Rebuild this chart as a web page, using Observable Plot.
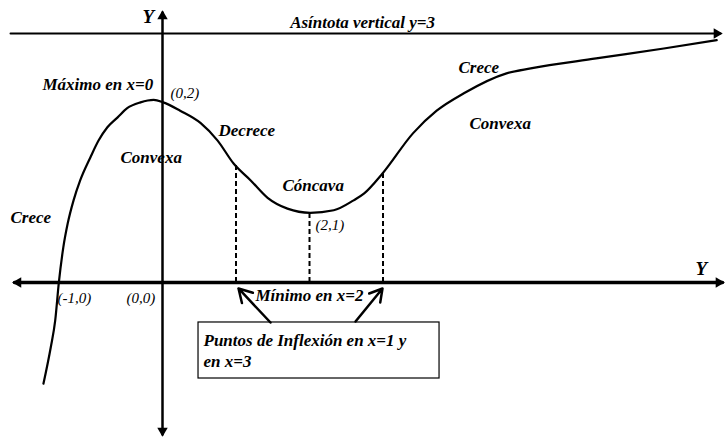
<!DOCTYPE html>
<html>
<head>
<meta charset="utf-8">
<script src="https://cdn.jsdelivr.net/npm/d3@7"></script>
<script src="https://cdn.jsdelivr.net/npm/@observablehq/plot@0.6"></script>
<style>
  html, body { margin: 0; padding: 0; background: #fff; }
  #chart svg { display: block; }
</style>
</head>
<body>
<div id="chart"></div>
<script>
// Curve sketched in the picture (x, y in axis units; sketch is not to scale)
const curveX = [-1.62, -1.52, -1.46, -1.41, -1.35, -1.29, -1.21, -1.12, -0.98, -0.87, -0.75, -0.61, -0.48, -0.30, -0.12, 0.01, 0.24, 0.52, 0.75, 0.97, 1.20, 1.43, 1.70, 2.01, 2.33, 2.60, 2.74, 2.99, 3.41, 3.73, 4.10, 4.68, 5.01, 5.90, 6.82, 7.54];
const curveY = [-1.22, -0.78, -0.46, 0.00, 0.42, 0.71, 0.99, 1.23, 1.51, 1.71, 1.87, 1.99, 2.10, 2.17, 2.20, 2.17, 2.07, 1.92, 1.71, 1.43, 1.23, 1.02, 0.89, 0.84, 0.87, 0.99, 1.07, 1.31, 1.80, 2.07, 2.28, 2.52, 2.58, 2.70, 2.82, 2.92];

// Asymptote value and the dashed markers (inflection x=1, x=3; minimum x=2)
const asymptoteY = 3;
const dashedX = [1, 2, 3];
const dashedTop = [1.43, 0.84, 1.31];

// Text labels (bold italic annotations)
const boldLabels = ["Máximo en x=0", "Decrece", "Convexa", "Cóncava", "Crece", "Crece", "Convexa", "Mínimo en x=2"];
const boldLabelX = [-1.633, 0.762, -0.571, 1.633, -2.068, 4.027, 4.177, 1.265];
const boldLabelY = [2.386, 1.831, 1.506, 1.169, 0.783, 2.590, 1.916, -0.157];

// Point coordinate labels (italic)
const pointLabels = ["(0,2)", "(2,1)", "(-1,0)", "(0,0)"];
const pointLabelX = [0.109, 2.082, -1.429, -0.490];
const pointLabelY = [2.277, 0.687, -0.193, -0.193];

// Axis names
const axisLabels = ["Y", "Y"];
const axisLabelX = [-0.272, 7.252];
const axisLabelY = [3.205, 0.169];

const titleText = "Asíntota vertical y=3";
const titleX = 2.721, titleY = 3.133;

// Boxed note and its arrows
const noteLines = ["Puntos de Inflexión en x=1 y", "en x=3"];
const noteX = 0.558;
const noteY = [-0.699, -0.952];
const box = {x1: 0.490, x2: 3.769, y1: -0.482, y2: -1.157};
const arrowFromX = [1.469, 2.626], arrowFromY = [-0.482, -0.470];
const arrowToX = [1.034, 2.993], arrowToY = [-0.072, -0.072];

// Axis extents and arrowheads
const xAxisExtent = [-2.014, 7.619];
const yAxisExtent = [3.253, -1.831];
const asymptoteExtent = [-2.068, 7.592];
const headX = [0, 0, -1.963, 7.567, 7.540];
const headY = [3.207, -1.786, 0, 0, 3];
const headRotate = [0, 180, -90, 90, 90];

const curve = curveX.map((x, i) => ({x, y: curveY[i]}));
const dashed = dashedX.map((x, i) => ({x, y1: 0, y2: dashedTop[i]}));
const bold = boldLabels.map((t, i) => ({t, x: boldLabelX[i], y: boldLabelY[i]}));
const pts = pointLabels.map((t, i) => ({t, x: pointLabelX[i], y: pointLabelY[i]}));
const axl = axisLabels.map((t, i) => ({t, x: axisLabelX[i], y: axisLabelY[i]}));
const notes = noteLines.map((t, i) => ({t, x: noteX, y: noteY[i]}));
const arrows = arrowFromX.map((x, i) => ({x1: x, y1: arrowFromY[i], x2: arrowToX[i], y2: arrowToY[i]}));
const heads = headX.map((x, i) => ({x, y: headY[i], r: headRotate[i]}));

const serif = "Liberation Serif";

const chart = Plot.plot({
  width: 726,
  height: 439,
  margin: 0,
  style: {background: "#fff", overflow: "visible"},
  x: {domain: [-2.204, 7.673], axis: null},
  y: {domain: [-1.892, 3.398], axis: null},
  marks: [
    // asymptote
    Plot.line([{x: asymptoteExtent[0], y: asymptoteY}, {x: asymptoteExtent[1], y: asymptoteY}], {x: "x", y: "y", stroke: "#000", strokeWidth: 2}),
    // x axis
    Plot.line([{x: xAxisExtent[0], y: 0}, {x: xAxisExtent[1], y: 0}], {x: "x", y: "y", stroke: "#000", strokeWidth: 3.5}),
    // y axis
    Plot.line([{x: 0, y: yAxisExtent[0]}, {x: 0, y: yAxisExtent[1]}], {x: "x", y: "y", stroke: "#000", strokeWidth: 2.5}),
    // arrowheads
    Plot.dot(heads, {x: "x", y: "y", rotate: "r", symbol: "triangle2", r: 5, fill: "#000", stroke: null}),
    // dashed guides
    Plot.ruleX(dashed, {x: "x", y1: "y1", y2: "y2", stroke: "#000", strokeWidth: 2, strokeDasharray: "5,3"}),
    // curve
    Plot.line(curve, {x: "x", y: "y", curve: "monotone-x", stroke: "#000", strokeWidth: 2.2}),
    // note box
    Plot.rect([box], {x1: "x1", x2: "x2", y1: "y1", y2: "y2", fill: "#fff", stroke: "#000", strokeWidth: 1.2}),
    Plot.arrow(arrows, {x1: "x1", y1: "y1", x2: "x2", y2: "y2", stroke: "#000", strokeWidth: 2.5, headLength: 9}),
    Plot.text(notes, {x: "x", y: "y", text: "t", textAnchor: "start", fontFamily: serif, fontSize: 17, fontWeight: "bold", fontStyle: "italic", fill: "#000"}),
    // labels
    Plot.text(bold, {x: "x", y: "y", text: "t", textAnchor: "start", fontFamily: serif, fontSize: 17, fontWeight: "bold", fontStyle: "italic", fill: "#000"}),
    Plot.text(pts, {x: "x", y: "y", text: "t", textAnchor: "start", fontFamily: serif, fontSize: 15, fontStyle: "italic", fill: "#000"}),
    Plot.text(axl, {x: "x", y: "y", text: "t", textAnchor: "start", fontFamily: serif, fontSize: 19, fontWeight: "bold", fontStyle: "italic", fill: "#000"}),
    Plot.text([{t: titleText, x: titleX, y: titleY}], {x: "x", y: "y", text: "t", textAnchor: "middle", fontFamily: serif, fontSize: 17, fontWeight: "bold", fontStyle: "italic", fill: "#000"})
  ]
});
document.getElementById("chart").append(chart);
</script>
</body>
</html>
